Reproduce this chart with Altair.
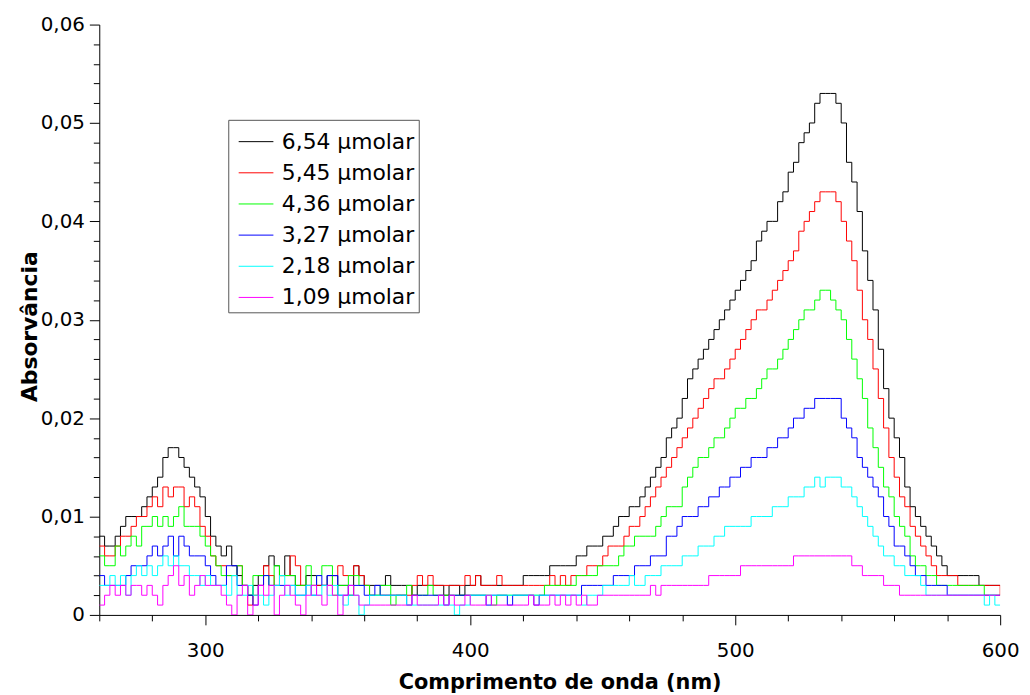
import altair as alt
import pandas as pd

# wavelength grid (nm), one reading every 2 nm
wavelength = list(range(260, 601, 2))

labels = ["6,54 µmolar", "5,45 µmolar", "4,36 µmolar",
          "3,27 µmolar", "2,18 µmolar", "1,09 µmolar"]
colors = ["#000000", "#ff0000", "#00ff00", "#0000ff", "#00ffff", "#ff00ff"]

# absorbance readings in thousandths (0.001 units), rows of 20 nm
abs_654 = [
    8, 7, 7, 8, 9, 10, 10, 10, 11, 12,
    13, 14, 16, 17, 17, 16, 15, 14, 13, 12,
    10, 8, 7, 6, 7, 5, 4, 3, 2, 3,
    4, 5, 6, 5, 4, 6, 4, 3, 3, 4,
    4, 3, 3, 4, 4, 3, 3, 2, 5, 4,
    3, 3, 3, 3, 4, 3, 3, 3, 3, 2,
    3, 3, 3, 3, 3, 2, 3, 3, 2, 3,
    3, 4, 3, 3, 3, 3, 3, 3, 3, 3,
    4, 4, 4, 4, 4, 5, 5, 5, 5, 5,
    6, 6, 7, 7, 7, 8, 8, 9, 10, 10,
    11, 11, 12, 13, 14, 15, 16, 18, 19, 20,
    22, 24, 25, 26, 27, 28, 29, 30, 31, 32,
    33, 34, 35, 36, 38, 39, 40, 40, 42, 43,
    45, 46, 48, 49, 50, 52, 53, 53, 53, 52,
    50, 46, 44, 41, 37, 34, 31, 27, 23, 20,
    18, 16, 13, 11, 10, 9, 8, 7, 6, 5,
    4, 4, 4, 4, 4, 4, 3, 3, 3, 3,
    3]
abs_545 = [
    7, 6, 6, 7, 8, 8, 9, 10, 10, 11,
    12, 11, 13, 12, 13, 13, 11, 12, 11, 9,
    8, 6, 5, 5, 4, 4, 5, 3, 1, 2,
    3, 5, 4, 3, 4, 4, 6, 5, 3, 3,
    3, 3, 3, 3, 4, 5, 4, 4, 5, 4,
    3, 2, 2, 2, 2, 2, 2, 2, 2, 3,
    4, 3, 4, 3, 3, 3, 3, 3, 3, 4,
    3, 4, 3, 3, 3, 4, 3, 3, 3, 3,
    3, 3, 3, 3, 3, 4, 3, 4, 3, 4,
    4, 4, 5, 5, 5, 6, 7, 7, 7, 8,
    9, 9, 10, 11, 12, 13, 14, 15, 16, 17,
    18, 19, 20, 21, 22, 23, 24, 24, 25, 26,
    27, 28, 29, 30, 31, 31, 32, 33, 34, 35,
    36, 37, 39, 40, 41, 42, 43, 43, 43, 42,
    40, 38, 36, 33, 30, 28, 25, 22, 19, 16,
    14, 12, 11, 9, 8, 7, 6, 5, 4, 4,
    4, 4, 3, 3, 3, 3, 3, 3, 3, 3,
    2]
abs_436 = [
    6, 5, 5, 7, 6, 7, 8, 7, 9, 9,
    10, 9, 10, 9, 10, 11, 9, 9, 9, 8,
    7, 6, 5, 4, 4, 4, 5, 3, 2, 4,
    4, 4, 3, 5, 4, 4, 4, 3, 3, 5,
    3, 4, 5, 5, 2, 3, 3, 4, 4, 3,
    3, 2, 2, 3, 3, 1, 2, 2, 3, 2,
    2, 2, 3, 2, 2, 2, 2, 2, 2, 2,
    2, 2, 2, 2, 1, 2, 2, 2, 2, 2,
    2, 2, 2, 2, 3, 3, 3, 3, 3, 3,
    4, 4, 4, 4, 5, 5, 5, 5, 6, 7,
    7, 8, 8, 8, 8, 9, 10, 11, 11, 11,
    13, 14, 15, 16, 16, 17, 18, 18, 19, 20,
    21, 21, 22, 22, 23, 24, 25, 25, 26, 27,
    28, 29, 30, 31, 31, 32, 33, 33, 32, 31,
    30, 28, 26, 24, 22, 19, 17, 15, 13, 12,
    10, 9, 8, 6, 5, 5, 4, 4, 3, 3,
    3, 3, 3, 3, 3, 3, 3, 2, 2, 2,
    2]
abs_327 = [
    4, 3, 3, 3, 3, 4, 5, 5, 5, 6,
    7, 6, 7, 8, 6, 8, 7, 6, 6, 6,
    5, 4, 3, 3, 5, 5, 3, 3, 2, 1,
    3, 4, 3, 3, 3, 3, 3, 2, 2, 3,
    2, 4, 3, 4, 4, 2, 2, 3, 3, 3,
    2, 2, 3, 2, 2, 2, 2, 2, 1, 2,
    2, 2, 2, 2, 2, 1, 2, 2, 2, 2,
    2, 2, 2, 1, 2, 2, 2, 1, 2, 2,
    2, 2, 1, 2, 2, 2, 2, 2, 2, 2,
    2, 3, 3, 3, 3, 3, 3, 4, 4, 4,
    4, 5, 5, 5, 6, 6, 6, 8, 8, 9,
    10, 10, 10, 11, 11, 12, 12, 13, 13, 14,
    14, 15, 15, 16, 16, 16, 17, 17, 18, 18,
    19, 20, 20, 21, 21, 22, 22, 22, 22, 22,
    20, 19, 18, 16, 15, 14, 13, 12, 10, 9,
    7, 7, 6, 5, 4, 4, 3, 3, 3, 3,
    2, 2, 2, 2, 2, 2, 2, 2, 2, 2,
    2]
abs_218 = [
    3, 3, 4, 3, 4, 2, 4, 5, 4, 5,
    4, 5, 6, 5, 6, 5, 5, 4, 4, 3,
    4, 3, 3, 3, 2, 4, 2, 2, 3, 2,
    2, 1, 2, 3, 4, 2, 3, 2, 2, 3,
    2, 2, 3, 2, 3, 2, 1, 2, 2, 0,
    1, 2, 2, 2, 2, 2, 2, 2, 1, 1,
    1, 1, 1, 1, 1, 1, 1, 0, 1, 1,
    2, 2, 2, 2, 2, 2, 2, 2, 2, 2,
    2, 2, 2, 2, 2, 2, 2, 2, 2, 2,
    2, 1, 2, 2, 2, 3, 3, 3, 3, 3,
    4, 3, 3, 4, 4, 4, 5, 5, 5, 5,
    6, 6, 6, 7, 7, 7, 8, 8, 9, 9,
    9, 9, 9, 10, 10, 10, 10, 11, 11, 11,
    12, 12, 12, 13, 13, 14, 13, 14, 14, 14,
    13, 13, 12, 11, 10, 9, 8, 7, 6, 6,
    5, 5, 4, 4, 4, 3, 2, 2, 2, 2,
    2, 2, 2, 2, 2, 2, 2, 1, 2, 1,
    1]
abs_109 = [
    1, 2, 3, 2, 3, 2, 3, 3, 2, 3,
    2, 1, 3, 4, 5, 3, 4, 2, 3, 4,
    3, 3, 3, 2, 1, 0, 2, 3, 0, 1,
    3, 2, 3, 0, 2, 3, 2, 1, 0, 2,
    3, 2, 1, 3, 2, 0, 2, 3, 2, 1,
    1, 1, 1, 1, 1, 1, 1, 1, 1, 2,
    1, 1, 1, 1, 2, 1, 2, 1, 1, 2,
    1, 1, 1, 2, 1, 1, 1, 1, 1, 1,
    1, 2, 1, 1, 1, 2, 1, 2, 1, 2,
    1, 2, 1, 1, 2, 2, 2, 2, 2, 2,
    2, 2, 2, 2, 3, 2, 3, 3, 3, 3,
    3, 3, 3, 3, 3, 4, 4, 4, 4, 4,
    4, 5, 5, 5, 5, 5, 5, 5, 5, 5,
    5, 6, 6, 6, 6, 6, 6, 6, 6, 6,
    6, 6, 5, 5, 4, 4, 4, 4, 3, 3,
    3, 2, 2, 2, 2, 2, 2, 2, 2, 2,
    2, 2, 2, 2, 2, 2, 2, 2, 2, 2,
    2]

series = [abs_654, abs_545, abs_436, abs_327, abs_218, abs_109]
for s in series:
    assert len(s) == len(wavelength), len(s)

x_ticks = list(range(260, 601, 20))
y_ticks = [round(i * 0.002, 3) for i in range(31)]

rows = []
for lab, vals in zip(labels, series):
    for w, v in zip(wavelength, vals):
        rows.append({"nm": w, "A": v / 1000.0, "conc": lab})
df = pd.DataFrame(rows)

FONT = "DejaVu Sans"
major_x = "datum.value % 100 == 0"
major_y = "abs(datum.value * 100 - round(datum.value * 100)) < 0.000001"

chart = alt.Chart(df).mark_line(
    interpolate="step-after", strokeWidth=1, clip=True
).encode(
    x=alt.X(
        "nm:Q",
        scale=alt.Scale(domain=[260, 600], nice=False, zero=False),
        axis=alt.Axis(
            values=x_ticks,
            title="Comprimento de onda (nm)",
            labelExpr=f"{major_x} ? datum.label : ''",
            labelOverlap=False,
            labelFlush=False,
            grid=False,
            domainColor="#000000",
            tickColor="#000000",
            tickSize={"condition": {"test": major_x, "value": 10}, "value": 6},
            labelFont=FONT,
            labelFontSize=20,
            labelColor="#000000",
            labelPadding=16,
            titleFont=FONT,
            titleFontSize=21,
            titleFontWeight="bold",
            titleColor="#000000",
            titleX=464,
            titleY=74,
            titleAlign="center",
            titleBaseline="alphabetic",
        ),
    ),
    y=alt.Y(
        "A:Q",
        scale=alt.Scale(domain=[0, 0.06], nice=False),
        axis=alt.Axis(
            values=y_ticks,
            title="Absorvância",
            labelExpr=(f"{major_y} ? (datum.value == 0 ? '0' : "
                       "replace(format(datum.value, '.2f'), '.', ',')) : ''"),
            labelOverlap=False,
            labelFlush=False,
            grid=False,
            domainColor="#000000",
            tickColor="#000000",
            tickSize={"condition": {"test": major_y, "value": 10}, "value": 6},
            labelFont=FONT,
            labelFontSize=20,
            labelColor="#000000",
            labelPadding=5,
            titleFont=FONT,
            titleFontSize=22,
            titleFontWeight="bold",
            titleColor="#000000",
            titleX=-63,
            titleY=304,
            titleAngle=270,
            titleAlign="center",
            titleBaseline="alphabetic",
        ),
    ),
    color=alt.Color(
        "conc:N",
        sort=labels,
        scale=alt.Scale(domain=labels, range=colors),
        legend=alt.Legend(
            title=None,
            orient="none",
            legendX=130,
            legendY=96,
            symbolType="stroke",
            symbolSize=1225,
            symbolStrokeWidth=1,
            symbolOffset=6,
            labelFont=FONT,
            labelFontSize=22,
            labelColor="#000000",
            labelOffset=8,
            labelLimit=300,
            labelExpr="datum.label + '\u00a0\u00a0'",
            rowPadding=2.4,
            padding=4,
            strokeColor="#555555",
            fillColor="#ffffff",
        ),
    ),
).properties(
    width=908,
    height=595,
    autosize=alt.AutoSizeParams(type="none"),
    padding={"left": 92, "top": 14, "right": 22, "bottom": 78},
).configure_view(strokeWidth=0)

chart.save("out.html", embed_options={"renderer": "svg", "actions": False})
